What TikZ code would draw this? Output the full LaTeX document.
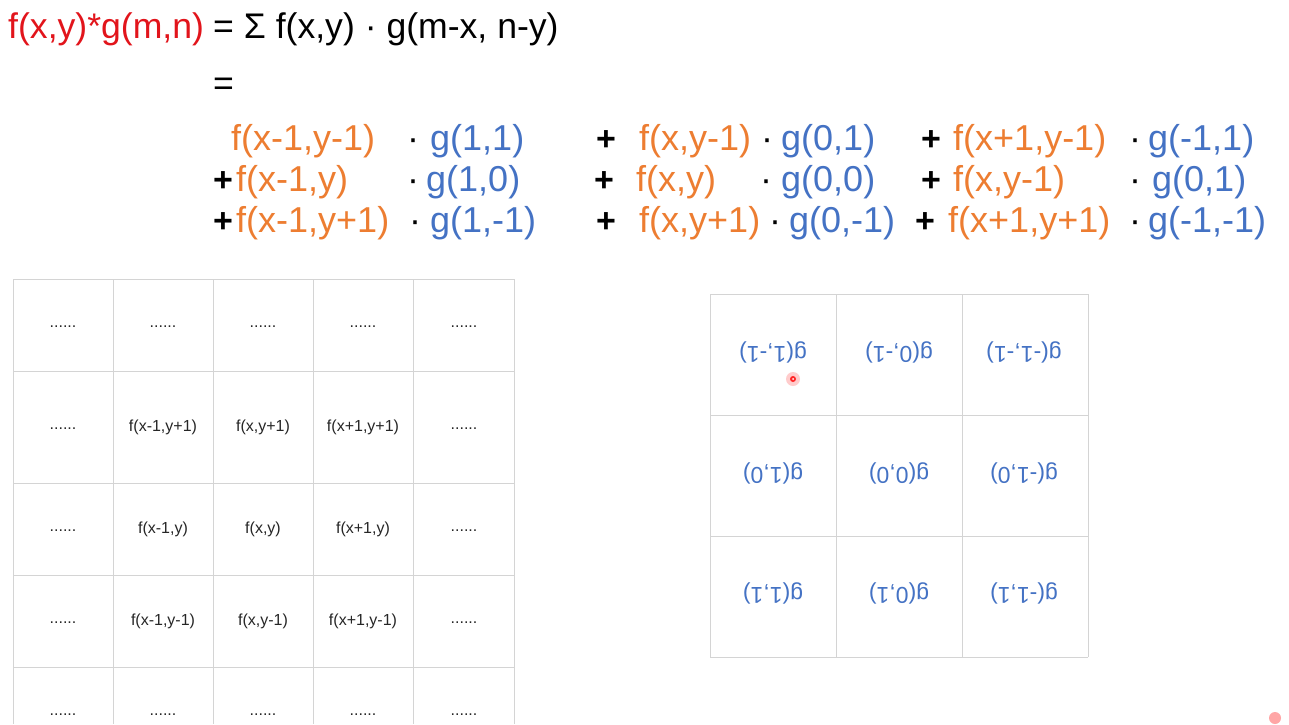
\documentclass[tikz,border=0pt]{standalone}
\usepackage{fontspec}
\setmainfont{Liberation Sans}
\usepackage{xcolor}
\definecolor{fred}{HTML}{E2141B}
\definecolor{forange}{HTML}{ED7D31}
\definecolor{gblue}{HTML}{4472C4}
\definecolor{gridgray}{HTML}{D4D4D4}

\begin{document}
\begin{tikzpicture}[x=1pt, y=-1pt,
    txt/.style = {inner sep=0pt, anchor=base west},
    big/.style = {txt, font=\fontsize{35.6}{40}\selectfont},
    fterm/.style = {txt, text=forange, font=\fontsize{36}{40}\selectfont},
    gterm/.style = {txt, text=gblue, font=\fontsize{36}{40}\selectfont},
    op/.style = {inner sep=0pt, anchor=base, font=\fontsize{36}{40}\selectfont},
    plus/.style = {op, font=\fontsize{34}{40}\selectfont\bfseries},
    cell/.style = {inner sep=0pt, font=\fontsize{16}{18}\selectfont, text=black!85},
    gcell/.style = {inner sep=0pt, rotate=180, text=gblue, font=\fontsize{23}{26}\selectfont},
    grid/.style = {draw=gridgray, line width=1pt}]
    \useasboundingbox[fill=white] (0,0) rectangle (1289,724);

    % top line
    \node[big, text=fred] (conv) at (8,38) {f(x,y)*g(m,n)};
    \node[big] (sum) at (213,38) {= Σ f(x,y) · g(m-x, n-y)};
    \node[big] (eq) at (213,95) {=};

    % first row of terms
    \node[fterm] (f1) at (231,150) {f(x-1,y-1)};
    \node[op] (d1) at (413,150) {·};
    \node[gterm] (g1) at (430,150) {g(1,1)};
    \node[plus] (p2) at (606,150) {+};
    \node[fterm] (f2) at (639,150) {f(x,y-1)};
    \node[op] (d2) at (767,150) {·};
    \node[gterm] (g2) at (781,150) {g(0,1)};
    \node[plus] (p3) at (931,150) {+};
    \node[fterm] (f3) at (953,150) {f(x+1,y-1)};
    \node[op] (d3) at (1135,150) {·};
    \node[gterm] (g3) at (1148,150) {g(-1,1)};

    % second row of terms
    \node[plus] (p4) at (223,191) {+};
    \node[fterm] (f4) at (236,191) {f(x-1,y)};
    \node[op] (d4) at (413,191) {·};
    \node[gterm] (g4) at (426,191) {g(1,0)};
    \node[plus] (p5) at (604,191) {+};
    \node[fterm] (f5) at (636,191) {f(x,y)};
    \node[op] (d5) at (766,191) {·};
    \node[gterm] (g5) at (781,191) {g(0,0)};
    \node[plus] (p6) at (931,191) {+};
    \node[fterm] (f6) at (953,191) {f(x,y-1)};
    \node[op] (d6) at (1135,191) {·};
    \node[gterm] (g6) at (1152,191) {g(0,1)};

    % third row of terms
    \node[plus] (p7) at (223,232) {+};
    \node[fterm] (f7) at (236,232) {f(x-1,y+1)};
    \node[op] (d7) at (415,232) {·};
    \node[gterm] (g7) at (430,232) {g(1,-1)};
    \node[plus] (p8) at (606,232) {+};
    \node[fterm] (f8) at (639,232) {f(x,y+1)};
    \node[op] (d8) at (775,232) {·};
    \node[gterm] (g8) at (789,232) {g(0,-1)};
    \node[plus] (p9) at (925,232) {+};
    \node[fterm] (f9) at (948,232) {f(x+1,y+1)};
    \node[op] (d9) at (1135,232) {·};
    \node[gterm] (g9) at (1148,232) {g(-1,-1)};

    % image grid
    \foreach \x in {13,113,213,313,413,514}
        \draw[grid] (\x,279) -- (\x,724);
    \foreach \y in {279,371,483,575,667}
        \draw[grid] (13,\y) -- (514,\y);

    \foreach \x [count=\i] in {63,163,263,363,464}
        \node[cell] (top\i) at (\x,327) {......};
    \node[cell] (l1) at (63,429) {......};
    \node[cell] (fa) at (163,427) {f(x-1,y+1)};
    \node[cell] (fb) at (263,427) {f(x,y+1)};
    \node[cell] (fc) at (363,427) {f(x+1,y+1)};
    \node[cell] (r1) at (464,429) {......};
    \node[cell] (l2) at (63,531) {......};
    \node[cell] (fd) at (163,529) {f(x-1,y)};
    \node[cell] (fe) at (263,529) {f(x,y)};
    \node[cell] (ff) at (363,529) {f(x+1,y)};
    \node[cell] (r2) at (464,531) {......};
    \node[cell] (l3) at (63,623) {......};
    \node[cell] (fg) at (163,621) {f(x-1,y-1)};
    \node[cell] (fh) at (263,621) {f(x,y-1)};
    \node[cell] (fi) at (363,621) {f(x+1,y-1)};
    \node[cell] (r3) at (464,623) {......};
    \foreach \x [count=\i] in {63,163,263,363,464}
        \node[cell] (bot\i) at (\x,715) {......};

    % kernel grid, turned over
    \foreach \x in {710,836,962,1088}
        \draw[grid] (\x,294) -- (\x,657);
    \foreach \y in {294,415,536,657}
        \draw[grid] (710,\y) -- (1088,\y);

    \node[gcell] (ka) at (773,352) {g(1,-1)};
    \node[gcell] (kb) at (899,352) {g(0,-1)};
    \node[gcell] (kc) at (1024,352) {g(-1,-1)};
    \node[gcell] (kd) at (773,473) {g(1,0)};
    \node[gcell] (ke) at (899,473) {g(0,0)};
    \node[gcell] (kf) at (1024,473) {g(-1,0)};
    \node[gcell] (kg) at (773,593) {g(1,1)};
    \node[gcell] (kh) at (899,593) {g(0,1)};
    \node[gcell] (ki) at (1024,593) {g(-1,1)};

    % pointer marks
    \fill[red!20] (793,379) circle (7);
    \fill[red!85] (793,379) circle (3);
    \fill[white] (793,379) circle (1);
    \fill[red!35] (1275,718) circle (6);
\end{tikzpicture}
\end{document}
